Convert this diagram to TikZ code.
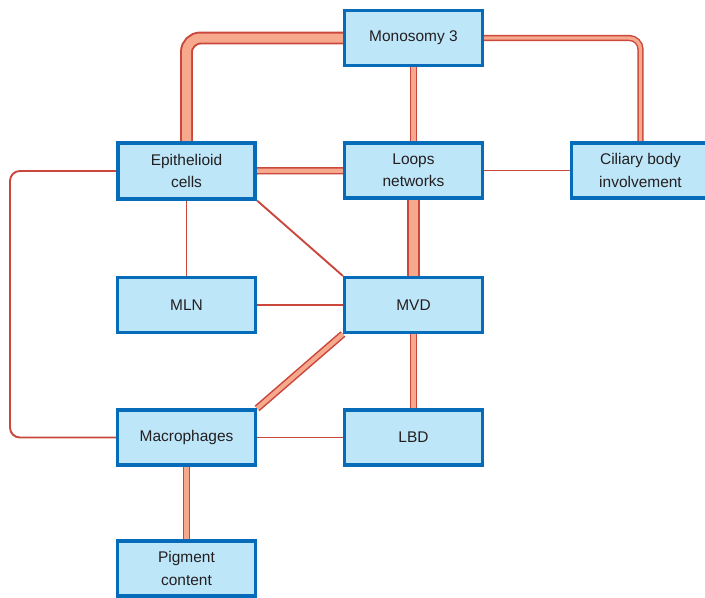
\documentclass[tikz,border=0pt]{standalone}
\usepackage{fontspec}
\setmainfont{Liberation Sans}
\usetikzlibrary{backgrounds}
\definecolor{boxFill}{HTML}{BEE6F9}
\definecolor{boxLine}{HTML}{066CBA}
\definecolor{boxText}{HTML}{231F20}
\definecolor{linkLine}{HTML}{C9473B}
\definecolor{linkFill}{HTML}{F7A98E}
\tikzset{
  melfig/.style={
    x=0.025cm, y=-0.025cm,
    every node/.append style={font=\fontsize{11}{16}\selectfont, text=boxText},
  },
  factor/.style={
    draw=boxLine, line width=2.2pt, fill=boxFill, align=center,
    inner sep=2pt, minimum width=3.45cm, minimum height=1.375cm,
  },
  keyfactor/.style={factor, line width=2.9pt, minimum width=3.43cm, minimum height=1.38cm},
  % Verbindungen: einfach, schmal, mittel und breit doppelt gezogen
  weak/.style={draw=linkLine, line width=1.35pt},
  narrow/.style={draw=linkLine, line width=1pt, double=linkFill, double distance=2.4pt},
  moderate/.style={draw=linkLine, line width=1.1pt, double=linkFill, double distance=3pt},
  strong/.style={draw=linkLine, line width=1.4pt, double=linkFill, double distance=6.4pt},
}

\begin{document}
\begin{tikzpicture}[melfig]
  \useasboundingbox (0,0) rectangle (705,598);
  \node[factor] (Monosomy) at (413.5,38) {Monosomy 3};
  \node[keyfactor] (Epithelioid) at (186.5,171) {Epithelioid\\cells};
  \node[factor] (Loops) at (413.5,170.5) {Loops\\networks};
  \node[factor] (Ciliary) at (640.5,170.5) {Ciliary body\\involvement};
  \node[factor] (MLN) at (186.5,305) {MLN};
  \node[factor] (MVD) at (413.5,305) {MVD};
  \node[factor] (Macrophages) at (186.5,437.5) {Macrophages};
  \node[factor] (LBD) at (413.5,437.5) {LBD};
  \node[factor] (Pigment) at (186.5,568.5) {Pigment\\content};
  \coordinate (loopx) at (10,0);
  \begin{scope}[on background layer]
    \draw[strong, rounded corners=10pt] (Monosomy.west) -| (Epithelioid.north);
    \draw[moderate] (Monosomy) -- (Loops);
    \draw[narrow, rounded corners=8pt] (Monosomy.east) -| (Ciliary.north);
    \draw[moderate] (Epithelioid) -- (Loops);
    \draw[weak] (Loops) -- (Ciliary);
    \draw[strong] (Loops) -- (MVD);
    \draw[weak] (Epithelioid.south east) -- (MVD.north west);
    \draw[weak] (Epithelioid) -- (MLN);
    \draw[weak] (MLN) -- (MVD);
    \draw[weak, rounded corners=7pt] (Epithelioid.west) -- (Epithelioid.west -| loopx)
      -- (Macrophages.west -| loopx) -- (Macrophages.west);
    \draw[moderate] (MVD.south west) -- (Macrophages.north east);
    \draw[moderate] (MVD) -- (LBD);
    \draw[weak] (Macrophages) -- (LBD);
    \draw[moderate] (Macrophages) -- (Pigment);
  \end{scope}
\end{tikzpicture}
\end{document}
